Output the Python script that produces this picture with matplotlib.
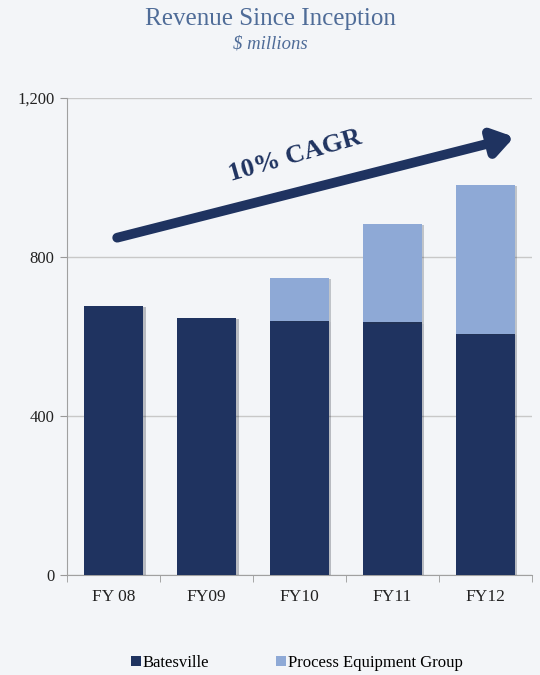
import matplotlib.pyplot as plt
import matplotlib.patheffects as pe
import numpy as np

years = ["FY 08", "FY09", "FY10", "FY11", "FY12"]
batesville = [677, 647, 639, 636, 606]
peg = [0, 0, 108, 247, 375]
yticks = [0, 400, 800, 1200]
ytick_labels = ["0", "400", "800", "1,200"]

navy = "#1f3360"
light = "#8ea9d6"

plt.rcParams["font.family"] = ["Liberation Serif", "DejaVu Serif"]

fig = plt.figure(figsize=(5.4, 6.75), dpi=100, facecolor="#f3f5f8")
ax = fig.add_axes([0.124, 0.148, 0.861, 0.707])
ax.set_facecolor("none")

x = np.arange(len(years))
shadow = [pe.SimplePatchShadow(offset=(2, -1), alpha=0.25), pe.Normal()]
b1 = ax.bar(x, batesville, width=0.63, color=navy, label="Batesville", zorder=3)
b2 = ax.bar(x, peg, width=0.63, bottom=batesville, color=light,
            label="Process Equipment Group", zorder=3)

ax.set_xlim(-0.5, len(years) - 0.5)
ax.set_ylim(0, 1200)
ax.set_yticks(yticks)
ax.set_yticklabels(ytick_labels)
ax.set_xticks(x)
ax.set_xticklabels(years)
ax.set_xticks(np.arange(-0.5, len(years)), minor=True)
ax.tick_params(axis="x", which="major", length=0, pad=10, labelsize=12.5, colors="#222222")
ax.tick_params(axis="x", which="minor", length=5, color="#999999")
ax.tick_params(axis="y", length=5, color="#999999", labelsize=12, labelcolor="#222222", pad=4)
ax.yaxis.grid(True, color="#c8c8c8", linewidth=1, zorder=0)
for s in ["top", "right"]:
    ax.spines[s].set_visible(False)
for s in ["left", "bottom"]:
    ax.spines[s].set_color("#a0a0a0")

# growth arrow
ax.annotate("", xy=(0.962, 0.918), xytext=(0.108, 0.707), xycoords="axes fraction",
            arrowprops=dict(arrowstyle="-|>,head_length=1.2,head_width=0.8",
                            color=navy, linewidth=7, shrinkA=0, shrinkB=0), zorder=4)
ax.text(0.49, 0.878, "10% CAGR", transform=ax.transAxes, rotation=16,
        ha="center", va="center", fontsize=19, fontweight="bold", color=navy)

fig.text(0.5, 0.972, "Revenue Since Inception", ha="center", va="center",
         fontsize=18, color="#4f6c98")
fig.text(0.5, 0.935, "$ millions", ha="center", va="center",
         fontsize=13.5, style="italic", color="#4f6c98")

fig.legend(loc="center", bbox_to_anchor=(0.55, 0.018), ncol=2, frameon=False,
           fontsize=12, handlelength=0.6, handleheight=0.6, handletextpad=0.1,
           columnspacing=4)

# shadows on the bars only, not on the legend keys
for p in list(b1) + list(b2):
    p.set_path_effects(shadow)

fig.savefig("out.png", dpi=100, facecolor=fig.get_facecolor())
